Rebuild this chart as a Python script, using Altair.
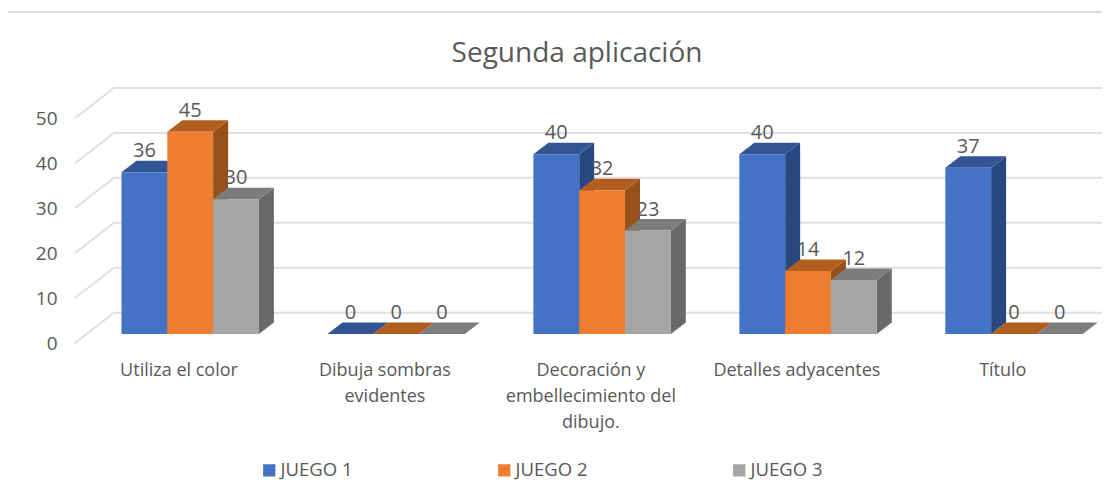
import altair as alt
import pandas as pd

categories = ["Utiliza el color", "Dibuja sombras\nevidentes",
              "Decoración y\nembellecimiento del\ndibujo.",
              "Detalles adyacentes", "Título"]
series = ["JUEGO 1", "JUEGO 2", "JUEGO 3"]
juego1 = [36, 0, 40, 40, 37]
juego2 = [45, 0, 32, 14, 0]
juego3 = [30, 0, 23, 12, 0]
front_colors = ["#4472C4", "#ED7D31", "#A5A5A5"]
top_colors = ["#335593", "#B25E20", "#7C7C7C"]
side_colors = ["#2A4880", "#975019", "#696969"]
ticks = [0, 10, 20, 30, 40, 50]

W, H = 1094, 472
UNIT = 205.95           # pixels per category
PPV = 4.495             # pixels per value unit
X0 = 113.5 / UNIT       # first bar left edge, in category units
BW = 45.8 / UNIT
DX = 15 / UNIT
DY = 11.5 / PPV
WALL_X = 106 / UNIT
FLOOR_X = 67 / UNIT
WALL_Y = 21.3 / PPV
FLOOR_Y = -9 / PPV
LABEL_X = 57.5 / UNIT

rows_front, rows_side, rows_top, rows_label = [], [], [], []
for s, vals in enumerate([juego1, juego2, juego3]):
    for c, v in enumerate(vals):
        l = X0 + c + s * BW
        r = l + BW
        bid = f"{s}-{c}"
        rows_front.append(dict(series=series[s], l=l, r=r, v=v, base=0))
        rows_label.append(dict(x=(l + r) / 2, v=v, t=str(v)))
        if v > 0:
            rows_side += [dict(id=bid, x=r, y=v, y2=0, c=side_colors[s]),
                          dict(id=bid, x=r + DX, y=v + DY, y2=DY, c=side_colors[s])]
        rows_top += [dict(id=bid, x=l, y=v, y2=v, c=top_colors[s]),
                     dict(id=bid, x=l + DX, y=v + DY, y2=v, c=top_colors[s]),
                     dict(id=bid, x=r, y=v + DY, y2=v, c=top_colors[s]),
                     dict(id=bid, x=r + DX, y=v + DY, y2=v + DY, c=top_colors[s])]

rows_grid = []
for t in ticks:
    rows_grid += [dict(id=t, x=FLOOR_X, y=t + FLOOR_Y),
                  dict(id=t, x=WALL_X, y=t + WALL_Y),
                  dict(id=t, x=W / UNIT, y=t + WALL_Y)]

xs = alt.Scale(domain=[0, W / UNIT], nice=False, zero=False)
ys = alt.Scale(domain=[(326 - H) / PPV, 326 / PPV], nice=False, zero=False)
yaxis = alt.Axis(values=ticks, grid=False, domain=False, ticks=False,
                 labelPadding=0, offset=-49, labelFontSize=19,
                 labelColor="#595959", labelFont="Open Sans",
                 labelOffset=9, title=None)


def Y(field):
    return alt.Y(field, scale=ys, axis=yaxis, title=None)


def X(field):
    return alt.X(field, scale=xs, axis=None)


frame = alt.Chart(pd.DataFrame({"a": [0]})).mark_rule(color="#DEDEDE", strokeWidth=2).encode(
    x=alt.value(0), x2=alt.value(W), y=alt.value(4))

grid = alt.Chart(pd.DataFrame(rows_grid)).mark_line(color="#E0E0E0", strokeWidth=2).encode(
    x=X("x:Q"), y=Y("y:Q"), detail="id:N")

side = alt.Chart(pd.DataFrame(rows_side)).mark_area().encode(
    x=X("x:Q"), y=Y("y:Q"), y2="y2:Q",
    color=alt.Color("c:N", scale=None), detail="id:N")
top = alt.Chart(pd.DataFrame(rows_top)).mark_area().encode(
    x=X("x:Q"), y=Y("y:Q"), y2="y2:Q",
    color=alt.Color("c:N", scale=None), detail="id:N")

front = alt.Chart(pd.DataFrame(rows_front)).mark_bar().encode(
    x=X("l:Q"), x2="r:Q",
    y=Y("v:Q"), y2="base:Q",
    color=alt.Color("series:N", scale=alt.Scale(domain=series, range=front_colors),
                    legend=alt.Legend(orient="none", legendX=252, legendY=453,
                                      direction="horizontal", columns=3, title=None,
                                      symbolType="square", symbolSize=150,
                                      symbolStrokeWidth=0, labelFontSize=18.5,
                                      labelColor="#595959", labelFont="Open Sans",
                                      columnPadding=142, labelOffset=2)))

labels = alt.Chart(pd.DataFrame(rows_label)).mark_text(
    fontSize=20, color="#595959", font="Open Sans", dy=-21).encode(
    x=X("x:Q"), y=Y("v:Q"), text="t:N")

cat_df = pd.DataFrame({"x": [X0 + i + LABEL_X for i in range(len(categories))], "t": categories})
cats = alt.Chart(cat_df).mark_text(
    fontSize=18, color="#595959", font="Open Sans", baseline="top",
    lineBreak="\n", lineHeight=26, align="center").encode(
    x=X("x:Q"), y=alt.value(354), text="t:N")

chart = alt.layer(frame, grid, side, top, front, labels, cats).resolve_scale(color="independent").properties(
    width=W, height=H, padding=0, autosize=alt.AutoSizeParams(type="none"),
    title=alt.TitleParams("Segunda aplicación", fontSize=28, color="#595959", font="Open Sans",
                          fontWeight="normal", anchor="middle", dx=22, offset=-88,
                          baseline="bottom")
).configure_view(stroke=None)

chart.save("out.html", embed_options={"renderer": "svg", "actions": False})
